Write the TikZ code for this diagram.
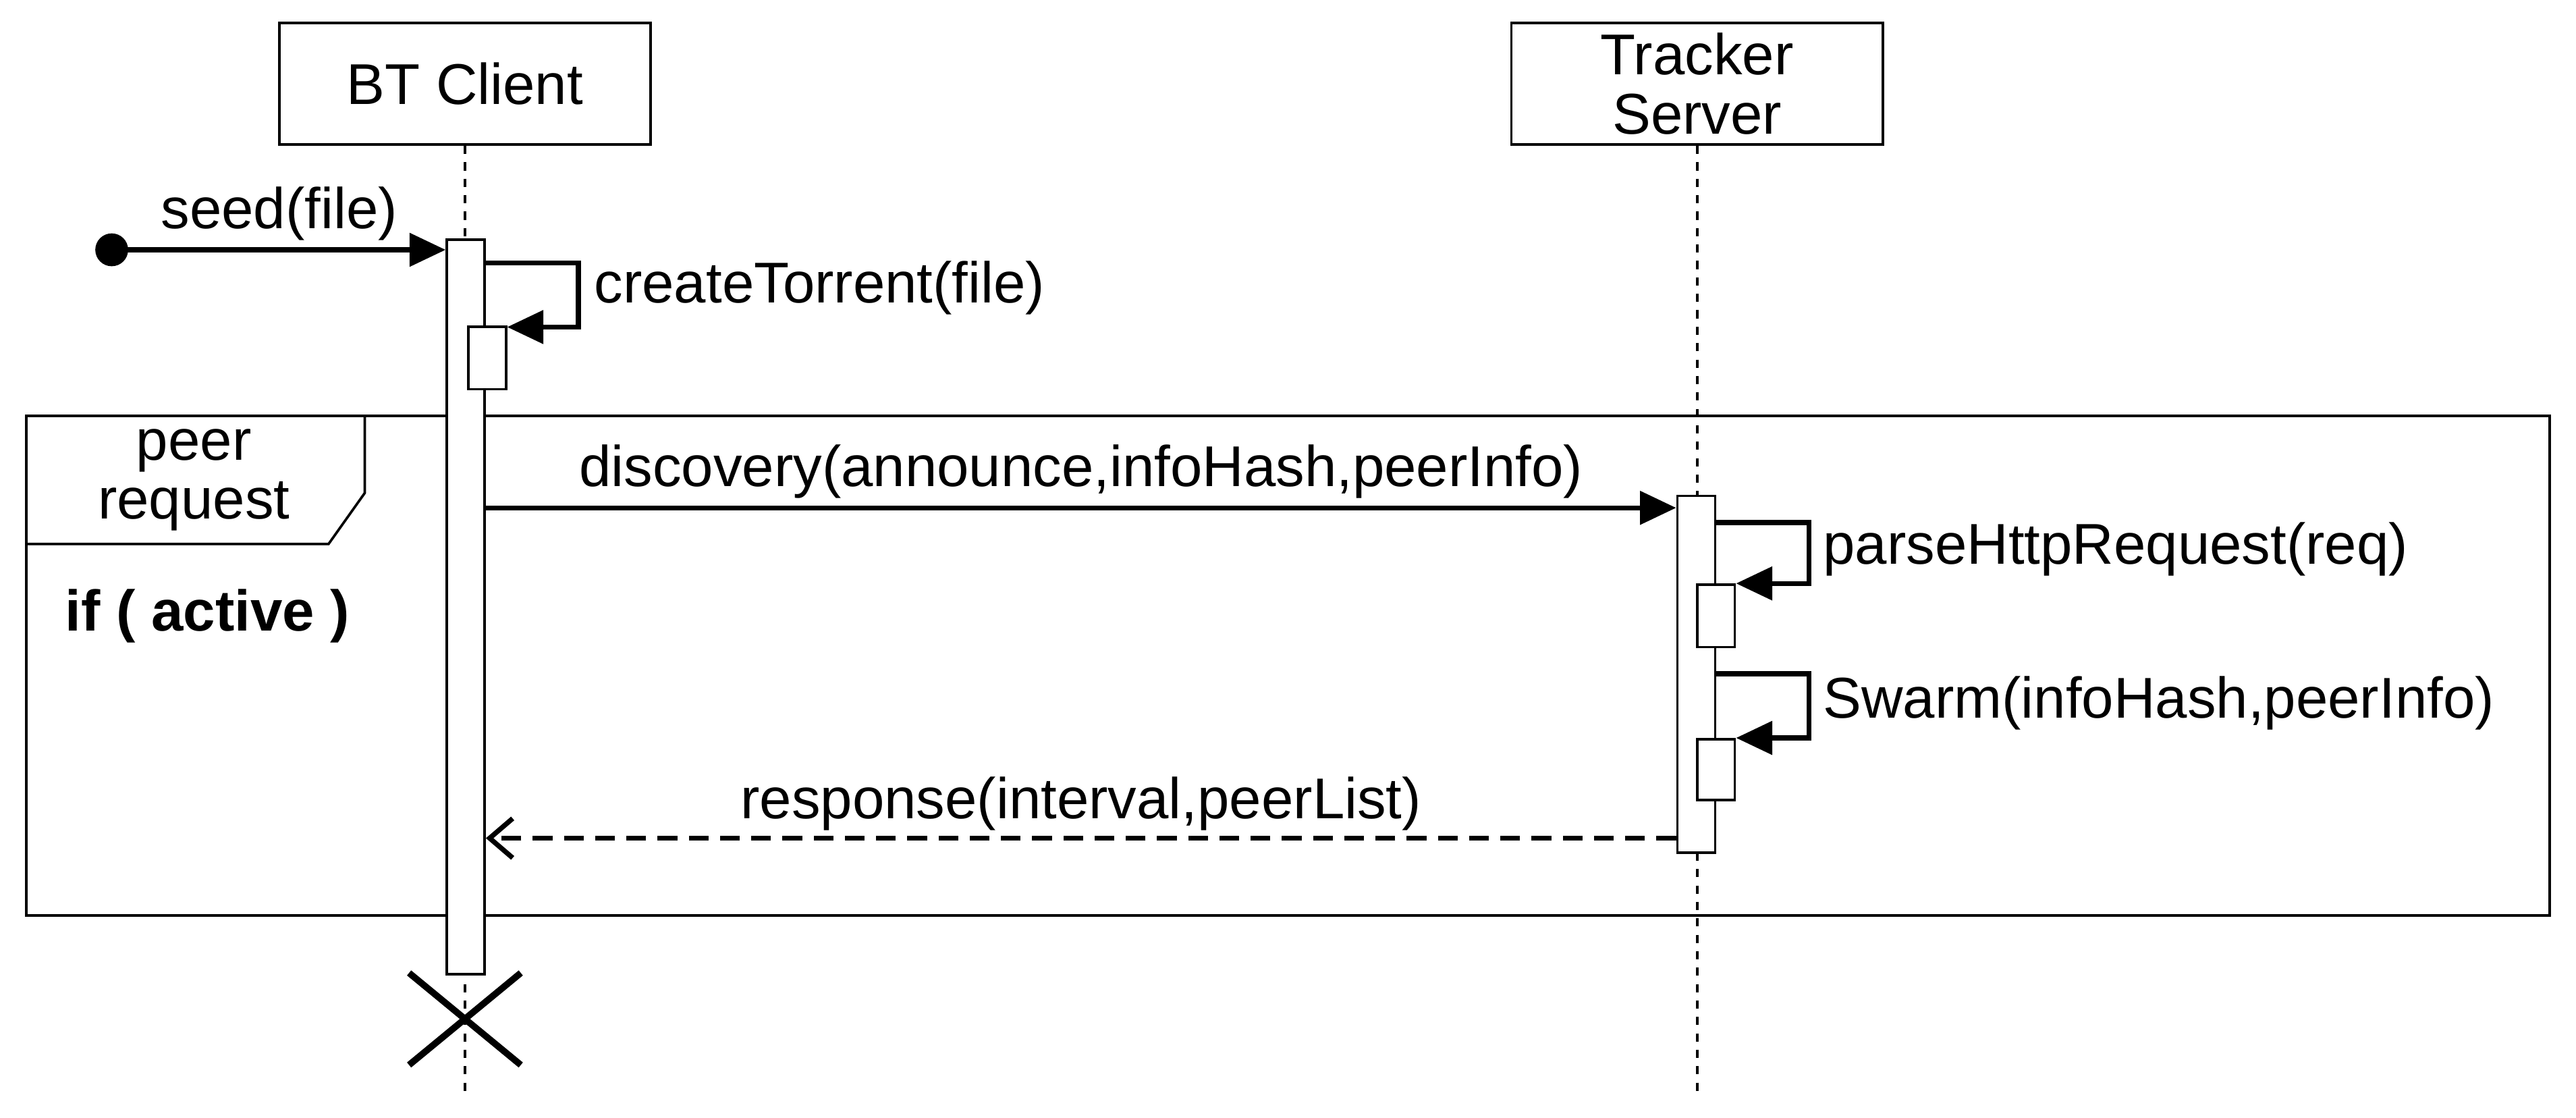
\documentclass[tikz,border=0pt]{standalone}
\usepackage{fontspec}
\setmainfont{Liberation Sans}
\usetikzlibrary{arrows.meta}
\tikzset{every picture/.style={line width=1.5pt}}
\tikzset{
  msg/.style={line width=3pt,-{Triangle[length=22pt,width=20pt]}},
  reply/.style={line width=3pt,dashed,dash pattern=on 12pt off 7pt,-{Straight Barb[length=14pt,width=24pt]}},
  actbox/.style={draw,fill=white,minimum width=23pt,inner sep=0pt},
  lifebox/.style={draw,fill=white,minimum width=226pt,minimum height=74pt,align=center,inner sep=0pt},
  lbl/.style={inner sep=1pt}
}
\begin{document}
\begin{tikzpicture}[x=1pt,y=1pt,yscale=-1,font=\fontsize{35}{36}\selectfont]
\useasboundingbox (0,0) rectangle (1568,680);
% Frame
\draw (16,253) rectangle (1552,557);
\draw (16,331) -- (200,331) -- (222,300) -- (222,253);
\node[lbl,align=center] (tab) at (118,292) {peer\\request};
\node[lbl,anchor=west,font=\fontsize{35}{36}\selectfont\bfseries] (guard) at (38,375) {if ( active )};
% Lifelines
\node[lifebox] (client) at (283,51) {BT Client};
\node[lifebox] (tracker) at (1033,51) {Tracker\\Server};
\coordinate (clientEnd) at (283,665);
\coordinate (trackerEnd) at (1033,665);
\draw[dash pattern=on 5pt off 5pt] (client.south) -- (clientEnd);
\draw[dash pattern=on 5pt off 5pt] (tracker.south) -- (trackerEnd);
% Activations
\node[actbox,minimum height=447pt,anchor=north] (actC) at (283.5,145) {};
\node[actbox,minimum height=38pt,anchor=north] (actC2) at (296.5,198) {};
\node[actbox,minimum height=217pt,anchor=north] (actT) at (1032.5,301) {};
\node[actbox,minimum height=38pt,anchor=north] (actT2) at (1044.5,355) {};
\node[actbox,minimum height=37pt,anchor=north] (actT3) at (1044.5,449) {};
% Messages
\fill (68,152) circle (10pt) coordinate (start);
\draw[msg] (start) -- (actC.north west |- 0,152);
\node[lbl] (seedL) at (170,130) {seed(file)};
\draw[msg] (actC.north east |- 0,160) -- (352,160) -- (352,199) -- (actC2.north east |- 0,199);
\node[lbl,anchor=west] (createL) at (360,175) {createTorrent(file)};
\draw[msg] (actC.east |- 0,309) -- (actT.west |- 0,309);
\node[lbl] (discL) at (658,287) {discovery(announce,infoHash,peerInfo)};
\draw[msg] (actT.north east |- 0,318) -- (1101,318) -- (1101,355) -- (actT2.north east |- 0,355);
\node[lbl,anchor=west] (parseL) at (1108,334) {parseHttpRequest(req)};
\draw[msg] (actT.east |- 0,410) -- (1101,410) -- (1101,449) -- (actT3.north east |- 0,449);
\node[lbl,anchor=west] (swarmL) at (1108,428) {Swarm(infoHash,peerInfo)};
\draw[reply] (actT.west |- 0,510) -- (actC.east |- 0,510);
\node[lbl] (respL) at (658,489) {response(interval,peerList)};
% Destruction
\draw[line width=4pt] (249,592) -- (317,648) (249,648) -- (317,592);
\end{tikzpicture}
\end{document}
